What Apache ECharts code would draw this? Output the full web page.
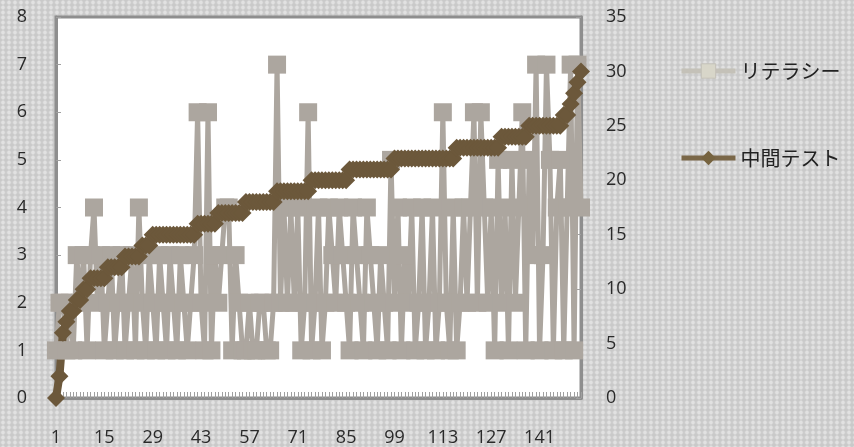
<!DOCTYPE html>
<html>
<head>
<meta charset="utf-8">
<script src="https://cdn.jsdelivr.net/npm/echarts@6/dist/echarts.min.js"></script>
<style>
  html, body { margin: 0; padding: 0; }
  body {
    width: 854px; height: 447px; overflow: hidden;
    background-color: #cfcfcf;
    background-image:
      radial-gradient(circle, rgba(255,255,255,0.38) 0 1.2px, transparent 2.4px),
      radial-gradient(circle, rgba(150,150,150,0.10) 0 1.2px, transparent 2.4px);
    background-size: 6px 5px, 6px 5px;
    background-position: 0 0, 3px 2.5px;
  }
  #chart { width: 854px; height: 447px; }
</style>
</head>
<body>
<div id="chart"></div>
<script>
// Student numbers (sorted by midterm score)
const students = [];
for (let n = 1; n <= 153; n++) students.push(String(n));

// Literacy score for each student (left axis, 0-8)
const literacy = [
  1,2,2,1,2,1,3,2,3,1, 3,4,2,3,1,2,3,1,2,3,
  1,2,3,1,4,2,1,3,2,1, 3,2,1,3,2,1,3,2,1,2,
  3,6,2,1,6,1,3,2,3,4, 4,1,3,2,1,1,2,1,1,2,
  2,1,1,2,7,2,4,2,4,2, 4,1,2,6,1,2,4,1,2,4,
  3,2,4,3,2,1,4,3,2,1, 4,3,2,1,3,2,1,5,2,4,
  1,3,2,4,1,2,4,1,2,4, 1,2,6,2,1,4,1,2,4,2,
  4,6,2,6,4,2,4,1,5,2, 4,1,5,2,4,6,1,5,3,7,
  1,3,7,5,1,4,5,1,4,7, 1,7,4
];

// Midterm test score for each student (right axis, 0-35)
const midterm = [
  0,2,6,7,8,8,9,9,10,10,
  11,11,11,11,11,12,12,12,12,12,
  13,13,13,13,13,14,14,14,15,15,
  15,15,15,15,15,15,15,15,15,15,
  15,16,16,16,16,16,16,17,17,17,
  17,17,17,17,17,18,18,18,18,18,
  18,18,18,18,19,19,19,19,19,19,
  19,19,19,19,20,20,20,20,20,20,
  20,20,20,20,20,21,21,21,21,21,
  21,21,21,21,21,21,21,21,22,22,
  22,22,22,22,22,22,22,22,22,22,
  22,22,22,22,22,22,23,23,23,23,
  23,23,23,23,23,23,23,23,23,24,
  24,24,24,24,24,24,24,25,25,25,
  25,25,25,25,25,25,25,26,26,27,
  28,29,30
];

const leftTicks = { min: 0, max: 8, interval: 1 };
const rightTicks = { min: 0, max: 35, interval: 5 };

const labelFont = { fontFamily: 'Open Sans', fontSize: 18, color: '#2a2a2a' };
const frameColor = '#8e8e8e';
const literacyColor = '#aca69f';
const midtermColor = '#6c583b';

const chart = echarts.init(document.getElementById('chart'), null, { renderer: 'canvas' });
chart.setOption({
  backgroundColor: 'transparent',
  animation: false,
  grid: {
    left: 56, right: 273, top: 17, bottom: 49,
    show: true, backgroundColor: '#ffffff',
    borderColor: frameColor, borderWidth: 3
  },
  legend: {
    orient: 'vertical',
    left: 674, top: 56,
    itemWidth: 54, itemHeight: 18, itemGap: 67,
    textStyle: { fontFamily: 'Noto Sans CJK JP', fontSize: 20, color: '#222' },
    data: [
      { name: 'リテラシー', itemStyle: { color: '#d8d6c9', borderColor: '#c4c1b8', borderWidth: 1 }, lineStyle: { color: '#c4c1b8', width: 5 } },
      { name: '中間テスト', itemStyle: { color: '#76633f' }, lineStyle: { color: '#7a6748', width: 5 } }
    ]
  },
  xAxis: {
    type: 'category',
    data: students,
    boundaryGap: false,
    axisLine: { lineStyle: { color: frameColor, width: 3 } },
    axisTick: { inside: true, length: 6, interval: 0, lineStyle: { color: '#a0a0a0', width: 1 } },
    axisLabel: Object.assign({ interval: 13, margin: 31 }, labelFont),
    splitLine: { show: false }
  },
  yAxis: [
    {
      type: 'value', position: 'left',
      min: leftTicks.min, max: leftTicks.max, interval: leftTicks.interval,
      axisLine: { show: true, lineStyle: { color: frameColor, width: 3 } },
      axisTick: { show: true, inside: true, length: 5, lineStyle: { color: '#a0a0a0' } },
      axisLabel: Object.assign({ margin: 29 }, labelFont),
      splitLine: { show: false }
    },
    {
      type: 'value', position: 'right',
      min: rightTicks.min, max: rightTicks.max, interval: rightTicks.interval,
      axisLine: { show: true, lineStyle: { color: frameColor, width: 3 } },
      axisTick: { show: true, inside: true, length: 5, lineStyle: { color: '#a0a0a0' } },
      axisLabel: Object.assign({ margin: 25 }, labelFont),
      splitLine: { show: false }
    }
  ],
  series: [
    {
      name: 'リテラシー',
      type: 'line',
      yAxisIndex: 0,
      data: literacy,
      symbol: 'rect',
      symbolSize: 18,
      showAllSymbol: true,
      clip: false,
      lineStyle: { color: literacyColor, width: 5 },
      itemStyle: { color: literacyColor }
    },
    {
      name: '中間テスト',
      type: 'line',
      yAxisIndex: 1,
      data: midterm,
      symbol: 'diamond',
      symbolSize: 18,
      showAllSymbol: true,
      clip: false,
      lineStyle: { color: midtermColor, width: 8 },
      itemStyle: { color: midtermColor }
    }
  ]
});
</script>
</body>
</html>
